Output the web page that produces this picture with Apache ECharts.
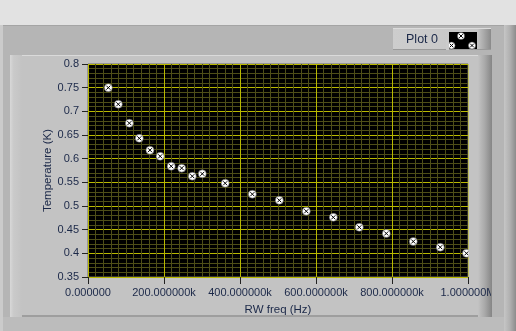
<!DOCTYPE html>
<html>
<head>
<meta charset="utf-8">
<script src="https://cdn.jsdelivr.net/npm/echarts@6/dist/echarts.min.js"></script>
<style>
html,body{margin:0;padding:0;}
body{width:516px;height:331px;overflow:hidden;background:#e2e2e2;position:relative;font-family:"Liberation Sans",Arial,sans-serif;}
#outer{position:absolute;left:0;top:25px;width:516px;height:306px;background:#b5b5b5;border-top:1px solid #a4a4a4;box-sizing:border-box;}
#outerL{position:absolute;left:0;top:25px;width:3px;height:306px;background:#cbcbcb;}
#outerR{position:absolute;left:504px;top:25px;width:12px;height:306px;background:linear-gradient(to right,#c6c6c6,#b0b0b0 50%,#8c8c8c);}
#bezel{position:absolute;left:10px;top:55px;width:482px;height:262px;background:#c3c3c3;border-top:1px solid #dadada;border-bottom:2px solid #9e9e9e;box-sizing:border-box;}
#bezelL{position:absolute;left:10px;top:55px;width:12px;height:262px;background:linear-gradient(to right,#d8d8d8,#cacaca 30%,#c3c3c3);}
#bezelR{position:absolute;left:478px;top:55px;width:14px;height:262px;background:linear-gradient(to right,#c3c3c3,#a8a8a8 50%,#858585);}
#below{position:absolute;left:3px;top:317px;width:501px;height:14px;background:#bcbcbc;}
#chart{position:absolute;left:0;top:0;width:491px;height:331px;}
</style>
</head>
<body>
<div id="outer"></div>
<div id="outerL"></div>
<div id="outerR"></div>
<div id="below"></div>
<div id="bezel"></div>
<div id="bezelL"></div>
<div id="bezelR"></div>
<div id="chart"></div>
<script>
// ---- data ----
const seriesName = 'Plot 0';
const freqHz = [53500, 79800, 108800, 135000, 163000, 190000, 219000, 246500, 274500, 300800,
                361000, 432500, 503500, 574500, 645600, 714000, 785000, 856000, 927000, 996000];
const temperatureK = [0.750, 0.715, 0.675, 0.643, 0.618, 0.605, 0.584, 0.580, 0.563, 0.568,
                      0.548, 0.525, 0.512, 0.489, 0.476, 0.455, 0.442, 0.425, 0.413, 0.400];
const xTickLabels = ['0.000000', '200.000000k', '400.000000k', '600.000000k', '800.000000k', '1.000000M'];
const yTickLabels = ['0.35', '0.4', '0.45', '0.5', '0.55', '0.6', '0.65', '0.7', '0.75', '0.8'];
const xTitle = 'RW freq (Hz)';
const yTitle = 'Temperature (K)';

const X_MIN = 0, X_MAX = 1000000, X_STEP = 200000;
const Y_MIN = 0.35, Y_MAX = 0.8, Y_STEP = 0.05;

const points = freqHz.map((f, i) => [f, temperatureK[i]]);

const textColor = '#1b2848';
const font = '"Liberation Sans", Arial, sans-serif';

const chart = echarts.init(document.getElementById('chart'), null, {renderer: 'canvas'});

function markerGroup(cx, cy) {
  return [
    {type: 'circle', shape: {cx: cx, cy: cy, r: 3.6}, style: {fill: '#fff', stroke: '#444', lineWidth: 0.5}, z: 120},
    {type: 'line', shape: {x1: cx - 1.8, y1: cy - 1.8, x2: cx + 1.8, y2: cy + 1.8}, style: {stroke: '#000', lineWidth: 1}, z: 121},
    {type: 'line', shape: {x1: cx + 1.8, y1: cy - 1.8, x2: cx - 1.8, y2: cy + 1.8}, style: {stroke: '#000', lineWidth: 1}, z: 121}
  ];
}

const option = {
  backgroundColor: 'transparent',
  animation: false,
  grid: {
    left: 88, top: 64, width: 380, height: 213,
    outerBoundsMode: 'none', containLabel: false,
    show: true, backgroundColor: '#000', borderColor: '#6a6a6a', borderWidth: 1
  },
  xAxis: {
    type: 'value', min: X_MIN, max: X_MAX, interval: X_STEP,
    name: xTitle, nameLocation: 'middle', nameGap: 27, nameMoveOverlap: false,
    nameTextStyle: {color: textColor, fontFamily: font, fontSize: 11.5},
    axisLine: {show: false},
    axisTick: {show: true, length: 7, lineStyle: {color: '#222', width: 1}},
    axisLabel: {
      color: textColor, fontFamily: font, fontSize: 11, margin: 10,
      formatter: v => xTickLabels[Math.round((v - X_MIN) / X_STEP)] || ''
    },
    splitLine: {show: true, lineStyle: {color: '#b9b900', width: 1}},
    minorTick: {show: false, splitNumber: 10},
    minorSplitLine: {show: true, lineStyle: {color: '#4e4e18', width: 1}}
  },
  yAxis: {
    type: 'value', min: Y_MIN, max: Y_MAX, interval: Y_STEP,
    name: yTitle, nameLocation: 'middle', nameGap: 34, nameRotate: 90, nameMoveOverlap: false,
    nameTextStyle: {color: textColor, fontFamily: font, fontSize: 11.5},
    axisLine: {show: false},
    axisTick: {show: true, length: 6, lineStyle: {color: '#222', width: 1}},
    axisLabel: {
      color: textColor, fontFamily: font, fontSize: 11, margin: 9,
      formatter: v => yTickLabels[Math.round((v - Y_MIN) / Y_STEP)] || ''
    },
    splitLine: {show: true, lineStyle: {color: '#b9b900', width: 1}},
    minorTick: {show: false, splitNumber: 5},
    minorSplitLine: {show: true, lineStyle: {color: '#4e4e18', width: 1}}
  },
  series: [
    {
      name: seriesName, type: 'scatter', data: points, symbol: 'circle', symbolSize: 8,
      itemStyle: {color: '#ffffff', borderColor: '#444', borderWidth: 0.5, opacity: 1},
      z: 3, silent: true
    },
    {
      name: seriesName + ' marker', type: 'scatter', data: points,
      symbol: 'path://M0,0L10,10M10,0L0,10', symbolSize: 4,
      itemStyle: {color: 'rgba(0,0,0,0)', borderColor: '#000', borderWidth: 1, opacity: 1},
      z: 4, silent: true
    }
  ],
  graphic: [
    {type: 'rect', shape: {x: 468.5, y: 60, width: 9.5, height: 217}, style: {fill: '#c3c3c3'}, z: 100, silent: true},
    {type: 'rect', shape: {x: 393, y: 28, width: 98, height: 22},
      style: {fill: new echarts.graphic.LinearGradient(0, 0, 1, 0, [
        {offset: 0, color: '#cdcdcd'}, {offset: 0.86, color: '#c6c6c6'}, {offset: 0.93, color: '#a8a8a8'}, {offset: 1, color: '#8a8a8a'}])},
      z: 100, silent: true},
    {type: 'rect', shape: {x: 393, y: 28, width: 98, height: 1}, style: {fill: '#dcdcdc'}, z: 101, silent: true},
    {type: 'rect', shape: {x: 393, y: 49, width: 98, height: 1}, style: {fill: '#9a9a9a'}, z: 101, silent: true},
    {type: 'text', x: 422, y: 40, style: {text: seriesName, fill: textColor, font: '12.5px "Liberation Sans", Arial, sans-serif', align: 'center', verticalAlign: 'middle'}, z: 101, silent: true},
    {type: 'rect', shape: {x: 449, y: 32, width: 28, height: 17}, style: {fill: '#000'}, z: 110, silent: true},
    ...markerGroup(461, 36),
    ...markerGroup(472, 45.5),
    ...markerGroup(451.5, 45.5),
    {type: 'rect', shape: {x: 446, y: 40, width: 3, height: 10}, style: {fill: '#cbcbcb'}, z: 125, silent: true}
  ]
};
chart.setOption(option);
</script>
</body>
</html>
